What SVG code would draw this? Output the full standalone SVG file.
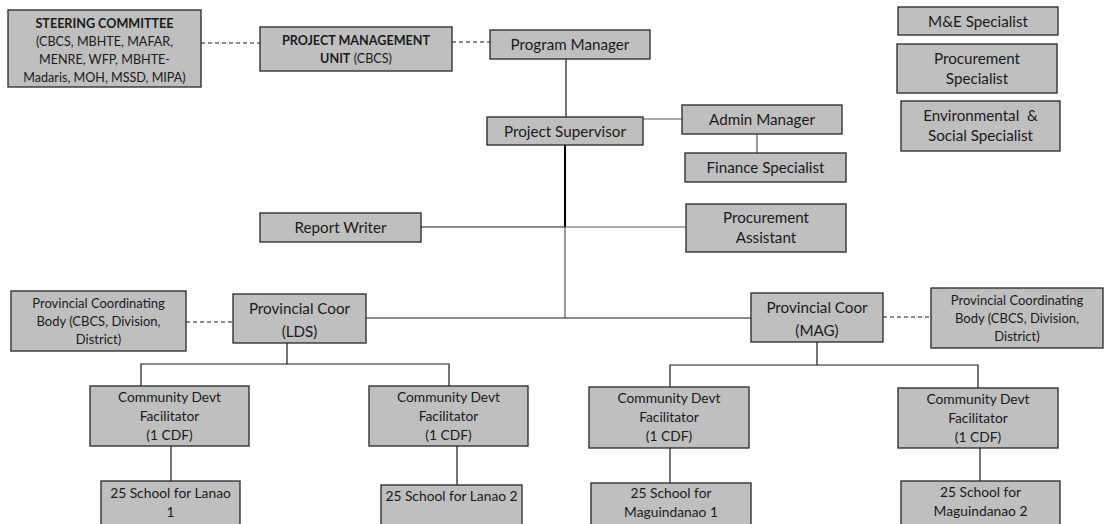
<svg xmlns="http://www.w3.org/2000/svg" width="1104" height="524" viewBox="0 0 1104 524">
<style>
.b{fill:#bfbfbf;stroke:#262626;stroke-width:1.3}
text{font-family:Lato,"Liberation Sans",sans-serif;fill:#1a1a1a;text-anchor:middle}
.l{font-size:15.2px}
.s{font-size:12.6px}
.p{font-size:13px}
.t{font-size:13.8px}
.bold{font-weight:bold}
.c{stroke:#1a1a1a;stroke-width:1.2;fill:none}
.g{stroke:#595959;stroke-width:1.2;fill:none}
.d{stroke:#1a1a1a;stroke-width:1.2;stroke-dasharray:4 3;fill:none}
</style>
<rect width="1104" height="524" fill="#fff"/>
<g id="connectors">
<line class="d" x1="201" y1="43" x2="260" y2="43"/>
<line class="d" x1="452" y1="42" x2="490" y2="42"/>
<line class="c" x1="566" y1="59" x2="566" y2="117"/>
<line class="g" x1="643" y1="119" x2="682" y2="119"/>
<line class="g" x1="757" y1="134" x2="757" y2="153"/>
<line stroke="#000" stroke-width="2" x1="565" y1="145" x2="565" y2="227"/>
<line class="g" x1="565" y1="227" x2="565" y2="318"/>
<line class="c" x1="421" y1="227" x2="565" y2="227"/>
<line class="g" x1="565" y1="227" x2="686" y2="227"/>
<line class="c" x1="366" y1="318" x2="751" y2="318"/>
<line class="d" x1="186" y1="322" x2="233" y2="322"/>
<line class="d" x1="883" y1="317" x2="931" y2="317"/>
<polyline class="c" points="287,343 287,364 141,364 141,386"/>
<polyline class="c" points="287,364 449,364 449,386"/>
<polyline class="c" points="817,342 817,365 670,365 670,387"/>
<polyline class="c" points="817,365 978,365 978,388"/>
<line class="c" x1="171" y1="446" x2="171" y2="481"/>
<line class="c" x1="457" y1="446" x2="457" y2="485"/>
<line class="c" x1="670" y1="448" x2="670" y2="483"/>
<line class="c" x1="980" y1="448" x2="980" y2="481"/>
</g>
<g id="steering">
<rect class="b" x="8" y="10" width="193" height="77"/>
<text class="s bold" x="104.5" y="28">STEERING COMMITTEE</text>
<text class="s" x="104.5" y="46">(CBCS, MBHTE, MAFAR,</text>
<text class="s" x="104.5" y="64">MENRE, WFP, MBHTE-</text>
<text class="s" x="104.5" y="82">Madaris, MOH, MSSD, MIPA)</text>
</g>
<g id="pmu">
<rect class="b" x="260" y="27" width="192" height="44"/>
<text class="s" x="356" y="45"><tspan class="bold">PROJECT MANAGEMENT</tspan></text>
<text class="s" x="356" y="63"><tspan class="bold">UNIT</tspan> (CBCS)</text>
</g>
<g id="program-manager">
<rect class="b" x="490" y="30" width="160" height="29"/>
<text class="l" x="570" y="50">Program Manager</text>
</g>
<g id="project-supervisor">
<rect class="b" x="487" y="117" width="156" height="28"/>
<text class="l" x="565" y="136.5">Project Supervisor</text>
</g>
<g id="admin-manager">
<rect class="b" x="682" y="105" width="160" height="29"/>
<text class="l" x="762" y="125">Admin Manager</text>
</g>
<g id="finance-specialist">
<rect class="b" x="685" y="153" width="161" height="29"/>
<text class="l" x="765.5" y="173">Finance Specialist</text>
</g>
<g id="me-specialist">
<rect class="b" x="898" y="7" width="160" height="28"/>
<text class="l" x="978" y="26.5">M&amp;E Specialist</text>
</g>
<g id="procurement-specialist">
<rect class="b" x="897" y="44" width="160" height="49"/>
<text class="l" x="977" y="63.5">Procurement</text>
<text class="l" x="977" y="84">Specialist</text>
</g>
<g id="env-social-specialist">
<rect class="b" x="901" y="101" width="159" height="50"/>
<text class="l" x="980.5" y="120.5" xml:space="preserve">Environmental  &amp;</text>
<text class="l" x="980.5" y="141">Social Specialist</text>
</g>
<g id="report-writer">
<rect class="b" x="260" y="213" width="161" height="29"/>
<text class="l" x="340.5" y="233">Report Writer</text>
</g>
<g id="procurement-assistant">
<rect class="b" x="686" y="204" width="160" height="48"/>
<text class="l" x="766" y="222.5">Procurement</text>
<text class="l" x="766" y="243">Assistant</text>
</g>
<g id="pcb-left">
<rect class="b" x="11" y="291" width="175" height="60"/>
<text class="p" x="98.5" y="308">Provincial Coordinating</text>
<text class="p" x="98.5" y="326">Body (CBCS, Division,</text>
<text class="p" x="98.5" y="344">District)</text>
</g>
<g id="prov-coor-lds">
<rect class="b" x="233" y="294" width="133" height="49"/>
<text class="l" x="299.5" y="314">Provincial Coor</text>
<text class="l" x="299.5" y="336.5">(LDS)</text>
</g>
<g id="prov-coor-mag">
<rect class="b" x="751" y="293" width="132" height="49"/>
<text class="l" x="817" y="313">Provincial Coor</text>
<text class="l" x="817" y="335.5">(MAG)</text>
</g>
<g id="pcb-right">
<rect class="b" x="931" y="288" width="172" height="60"/>
<text class="p" x="1017" y="304.5">Provincial Coordinating</text>
<text class="p" x="1017" y="322.5">Body (CBCS, Division,</text>
<text class="p" x="1017" y="340.5">District)</text>
</g>
<g id="cdf-1">
<rect class="b" x="90" y="386" width="159" height="60"/>
<text class="t" x="169.5" y="402">Community Devt</text>
<text class="t" x="169.5" y="421">Facilitator</text>
<text class="t" x="169.5" y="440">(1 CDF)</text>
</g>
<g id="cdf-2">
<rect class="b" x="369" y="386" width="159" height="60"/>
<text class="t" x="448.5" y="402">Community Devt</text>
<text class="t" x="448.5" y="421">Facilitator</text>
<text class="t" x="448.5" y="440">(1 CDF)</text>
</g>
<g id="cdf-3">
<rect class="b" x="589" y="387" width="160" height="61"/>
<text class="t" x="669" y="403">Community Devt</text>
<text class="t" x="669" y="422">Facilitator</text>
<text class="t" x="669" y="441">(1 CDF)</text>
</g>
<g id="cdf-4">
<rect class="b" x="898" y="388" width="160" height="60"/>
<text class="t" x="978" y="404">Community Devt</text>
<text class="t" x="978" y="423">Facilitator</text>
<text class="t" x="978" y="442">(1 CDF)</text>
</g>
<g id="school-lanao-1">
<rect class="b" x="101" y="481" width="139" height="50"/>
<text class="t" x="170.5" y="498">25 School for Lanao</text>
<text class="t" x="170.5" y="517">1</text>
</g>
<g id="school-lanao-2">
<rect class="b" x="381" y="485" width="141" height="50"/>
<text class="t" x="451.5" y="501">25 School for Lanao 2</text>
</g>
<g id="school-maguindanao-1">
<rect class="b" x="591" y="483" width="160" height="50"/>
<text class="t" x="671" y="498">25 School for</text>
<text class="t" x="671" y="517">Maguindanao 1</text>
</g>
<g id="school-maguindanao-2">
<rect class="b" x="901" y="481" width="159" height="50"/>
<text class="t" x="980.5" y="497">25 School for</text>
<text class="t" x="980.5" y="516">Maguindanao 2</text>
</g>
</svg>
